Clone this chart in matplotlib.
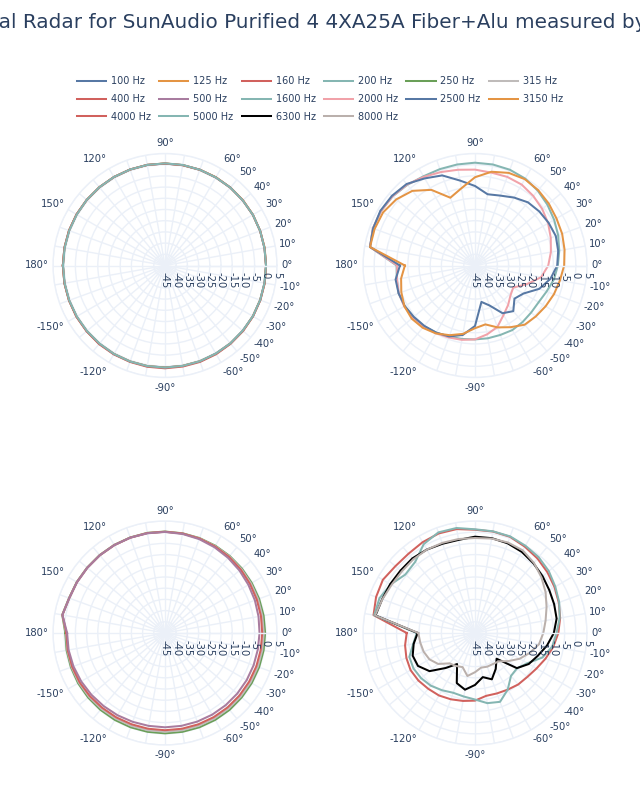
import numpy as np
import matplotlib
matplotlib.use('Agg')
import matplotlib.pyplot as plt
import matplotlib.transforms as mtransforms

# ---------------- data ----------------
angles = list(range(-180, 181, 10))

spl_100 = [0.6,0.6,0.6,0.6,0.6,0.6,0.6,0.6,0.6,0.5,0.5,0.5,0.4,0.4,0.3,0.3,0.2,0.1,
           0.1,0.1,0.2,0.3,0.3,0.4,0.4,0.5,0.5,0.5,0.6,0.6,0.6,0.6,0.6,0.6,0.6,0.6,0.6]
spl_125 = [0.6,0.6,0.6,0.6,0.6,0.6,0.6,0.6,0.6,0.6,0.5,0.5,0.5,0.4,0.4,0.3,0.2,0.2,
           0.1,0.2,0.2,0.3,0.4,0.4,0.5,0.5,0.5,0.6,0.6,0.6,0.6,0.6,0.6,0.6,0.6,0.6,0.6]
spl_160 = [0.6,0.6,0.6,0.7,0.7,0.8,0.8,0.8,0.9,0.9,0.8,0.8,0.7,0.6,0.5,0.4,0.3,0.2,
           0.1,0.1,0.2,0.3,0.3,0.4,0.4,0.5,0.5,0.5,0.6,0.6,0.6,0.6,0.6,0.6,0.6,0.6,0.6]
spl_200 = [0.5,0.5,0.5,0.5,0.5,0.5,0.6,0.6,0.6,0.6,0.5,0.5,0.4,0.4,0.3,0.3,0.2,0.1,
           0.1,0.1,0.2,0.3,0.3,0.4,0.4,0.5,0.6,0.6,0.6,0.6,0.6,0.6,0.6,0.5,0.5,0.5,0.5]

spl_250 = [-0.5,-0.4,-0.3,-0.2,-0.2,-0.2,-0.2,-0.2,-0.2,-0.2,-0.2,-0.2,-0.2,-0.2,-0.3,-0.3,-0.3,-0.3,
           -0.3,-0.3,-0.3,-0.3,-0.2,-0.1,0.0,0.1,0.2,0.3,0.4,0.4,0.4,0.4,0.4,0.5,0.6,1.6,-0.5]
spl_315 = [-0.8,-0.7,-0.6,-0.6,-0.7,-0.8,-0.9,-0.9,-0.9,-0.9,-0.9,-0.9,-0.9,-0.9,-0.9,-0.9,-0.9,-0.9,
           -0.9,-0.9,-0.8,-0.7,-0.5,-0.3,-0.2,0.0,0.1,0.2,0.3,0.3,0.3,0.3,0.3,0.4,0.5,1.5,-0.8]
spl_400 = [-1.0,-0.9,-0.9,-1.0,-1.2,-1.4,-1.5,-1.6,-1.6,-1.6,-1.6,-1.6,-1.6,-1.6,-1.6,-1.6,-1.6,-1.6,
           -1.6,-1.5,-1.4,-1.2,-0.9,-0.6,-0.4,-0.1,0.1,0.2,0.3,0.3,0.3,0.3,0.3,0.4,0.5,1.5,-1.0]
spl_500 = [-1.3,-1.3,-1.5,-1.8,-2.1,-2.4,-2.6,-2.8,-2.9,-2.9,-2.9,-2.9,-2.9,-2.9,-2.9,-2.9,-2.9,-2.9,
           -2.8,-2.6,-2.3,-2.0,-1.6,-1.2,-0.8,-0.4,-0.1,0.1,0.2,0.3,0.3,0.3,0.3,0.4,0.5,1.5,-1.3]

spl_1600 = [-10.0,-9.5,-8.7,-8.7,-9.2,-9.6,-10.4,-11.2,-11.7,-12.0,-12.0,-12.0,-11.7,-12.0,-12.3,-12.2,-11.0,-9.2,
            -8.0,-6.8,-5.5,-4.2,-2.8,-1.4,-0.2,0.5,0.8,0.9,0.8,0.8,1.0,2.0,3.0,3.5,3.5,2.6,-10.0]
spl_2000 = [-10.3,-9.6,-8.8,-8.5,-8.9,-9.4,-10.1,-10.8,-11.3,-12.0,-13.8,-15.8,-19.5,-22.0,-24.3,-25.3,-20.5,-15.0,
            -12.3,-10.6,-9.0,-7.3,-5.8,-4.5,-3.3,-2.9,-2.9,-2.2,-1.6,-0.6,0.7,2.2,3.1,3.5,3.5,2.6,-10.3]
spl_2500 = [-11.5,-9.0,-8.7,-8.8,-9.3,-9.8,-10.4,-11.3,-13.5,-18.0,-28.5,-26.0,-20.4,-18.4,-22.0,-20.0,-14.5,-10.8,
            -8.3,-7.3,-6.6,-7.0,-7.5,-8.2,-10.0,-11.8,-12.7,-9.5,-6.5,-2.2,-0.1,2.5,3.4,3.8,3.4,2.6,-11.5]
spl_3150 = [-13.7,-11.5,-10.0,-8.6,-8.1,-8.7,-10.0,-11.9,-14.0,-17.0,-18.3,-15.6,-13.2,-10.5,-9.6,-8.6,-7.5,-6.5,
            -5.2,-4.4,-3.6,-3.0,-2.0,-1.1,-0.5,-1.0,-2.5,-5.6,-10.0,-12.8,-6.0,-1.5,0.9,2.4,2.7,2.6,-13.7]

spl_4000 = [-14.5,-13.3,-12.4,-11.8,-12.0,-12.5,-12.8,-13.5,-14.2,-14.8,-16.5,-16.3,-15.8,-15.0,-14.5,-13.3,-11.5,-9.5,
            -7.8,-6.4,-5.2,-4.0,-2.8,-1.6,-0.5,0.7,1.0,1.1,2.1,2.3,1.8,1.2,1.4,2.5,2.0,1.0,-14.5]
spl_5000 = [-19.0,-17.0,-13.8,-13.3,-13.6,-14.3,-15.5,-16.6,-16.2,-15.3,-13.2,-12.3,-15.8,-20.0,-20.5,-18.0,-13.0,-10.0,
            -8.6,-6.6,-5.0,-3.6,-2.0,-0.8,0.0,0.9,1.1,1.3,2.6,2.8,0.8,-3.5,-4.4,-1.6,0.4,0.7,-19.0]
spl_6300 = [-19.4,-17.2,-15.4,-15.6,-18.5,-24.6,-29.0,-21.2,-19.3,-21.8,-25.0,-23.0,-26.5,-30.0,-20.6,-17.3,-15.2,-12.4,
            -9.8,-8.0,-7.4,-6.7,-5.6,-4.4,-3.2,-2.4,-2.0,-2.0,-2.8,-2.6,-2.0,-1.5,-1.6,-1.3,-0.9,0.1,-19.4]
spl_8000 = [-19.7,-20.2,-20.6,-21.5,-23.5,-27.3,-28.0,-28.8,-25.5,-27.5,-29.3,-29.0,-29.0,-28.5,-25.5,-22.0,-19.0,-16.0,
            -14.5,-13.0,-11.0,-8.6,-6.3,-4.1,-2.4,-2.0,-2.2,-2.6,-2.4,-2.2,-2.0,-2.1,-2.3,-2.0,-1.0,0.3,-19.7]

subplots = [
    [("100 Hz", spl_100, "#5778a4"), ("125 Hz", spl_125, "#e49444"),
     ("160 Hz", spl_160, "#d1615d"), ("200 Hz", spl_200, "#85b6b2")],
    [("1600 Hz", spl_1600, "#85b6b2"), ("2000 Hz", spl_2000, "#f1a2a9"),
     ("2500 Hz", spl_2500, "#5778a4"), ("3150 Hz", spl_3150, "#e49444")],
    [("250 Hz", spl_250, "#6a9f58"), ("315 Hz", spl_315, "#bfbbba"),
     ("400 Hz", spl_400, "#d1615d"), ("500 Hz", spl_500, "#a87c9f")],
    [("4000 Hz", spl_4000, "#d1615d"), ("5000 Hz", spl_5000, "#85b6b2"),
     ("6300 Hz", spl_6300, "#000000"), ("8000 Hz", spl_8000, "#bab0ac")],
]
legend_order = ["100 Hz", "125 Hz", "160 Hz", "200 Hz", "250 Hz", "315 Hz",
                "400 Hz", "500 Hz", "1600 Hz", "2000 Hz", "2500 Hz", "3150 Hz",
                "4000 Hz", "5000 Hz", "6300 Hz", "8000 Hz"]

radial_ticks = list(range(-45, 6, 5))
angular_ticks = [0, 10, 20, 30, 40, 50, 60, 90, 120, 150, 180, -150, -120, -90, -60, -50, -40, -30, -20, -10]
title = "Horizontal Radar for SunAudio Purified 4 4XA25A Fiber+Alu measured by Vendor"

# ---------------- figure ----------------
W, H = 640, 800
TXT = '#2a3f5f'
GRID = '#EBF0F8'
fig = plt.figure(figsize=(W / 100, H / 100), dpi=100)
R = 112
centers = [(165, 265.5), (475, 265.5), (165, 633), (475, 633)]

handles = {}
th = np.deg2rad(angles)
for (cx, cy), traces in zip(centers, subplots):
    ax = fig.add_axes([(cx - R) / W, (H - cy - R) / H, 2 * R / W, 2 * R / H], projection='polar')
    ax.set_theta_zero_location('E')
    ax.set_theta_direction(1)
    ax.set_ylim(-45, 5)
    ax.set_yticks(radial_ticks)
    ax.set_yticklabels([])
    ax.set_xticks(np.deg2rad(np.arange(0, 360, 10)))
    ax.set_xticklabels([])
    ax.tick_params(length=0)
    ax.grid(True, color=GRID, lw=1.0)
    ax.spines['polar'].set_color(GRID)
    ax.spines['polar'].set_linewidth(1.0)
    ax.set_facecolor('white')
    for name, vals, col in traces:
        ln, = ax.plot(th, vals, color=col, lw=1.45, zorder=3)
        handles[name] = ln
    # radial axis line above traces
    ax.plot([0, 0], [-45, 5], color=GRID, lw=1.0, zorder=4)
    # radial tick labels, rotated, below the 0 deg line
    for v in radial_ticks:
        tr = mtransforms.offset_copy(ax.transData, fig=fig, x=0, y=-7, units='dots')
        ax.text(0, v, str(v), rotation=-90, ha='center', va='top', fontsize=7.2,
                color=TXT, transform=tr, zorder=6)
    # angular tick labels (edge-anchored horizontally, centred vertically)
    for a in angular_ticks:
        rad = np.deg2rad(a)
        c, s = np.cos(rad), np.sin(rad)
        ha = 'left' if c > 0.05 else ('right' if c < -0.05 else 'center')
        tr = mtransforms.offset_copy(ax.transData, fig=fig, x=4 * c, y=4 * s + 6.5 * s, units='dots')
        ax.text(rad, 5, f"{a}°", ha=ha, va='center', fontsize=7.2, color=TXT, transform=tr)

# legend (column-major order to mimic row-major layout of 6 columns)
ncol = 6
rows = [legend_order[i:i + ncol] for i in range(0, len(legend_order), ncol)]
ordered = []
for ci in range(ncol):
    for r in rows:
        if ci < len(r):
            ordered.append(r[ci])
fig.legend([handles[n] for n in ordered], ordered, loc='center',
           bbox_to_anchor=(0.5, 1 - 99 / H), ncol=ncol, frameon=False, fontsize=7,
           handlelength=3.0, handletextpad=0.5, columnspacing=0.85, labelspacing=0.8,
           borderpad=0, labelcolor=TXT)

fig.text(0.498, 1 - 22 / H, title, ha='center', va='center', fontsize=14.4, color=TXT)

fig.savefig('out.png', dpi=100, facecolor='white')
